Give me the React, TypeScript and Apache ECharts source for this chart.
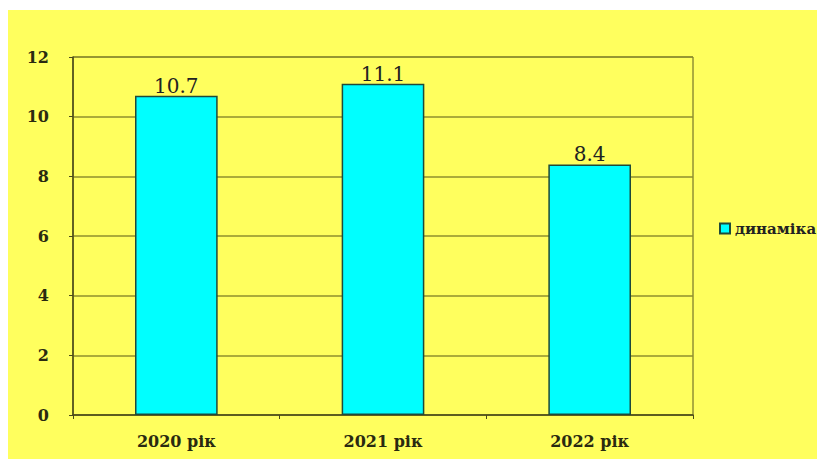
import React, { useEffect, useRef } from "react";
import * as echarts from "echarts";

const categories = ["2020 рік", "2021 рік", "2022 рік"];
const values = [10.7, 11.1, 8.4];
const seriesName = "динаміка";
const yTicks = { min: 0, max: 12, interval: 2 };

export default function App() {
  const ref = useRef<HTMLDivElement>(null);
  useEffect(() => {
    const chart = echarts.init(ref.current!, undefined, { renderer: "svg" });
    const font = "'DejaVu Serif'";
    chart.setOption({
      animation: false,
      backgroundColor: "#ffffff",
      textStyle: { fontFamily: font },
      graphic: [
        {
          type: "rect",
          z: -10,
          silent: true,
          shape: { x: 8, y: 10, width: 809, height: 449 },
          style: { fill: "#ffff5e" },
        },
      ],
      grid: { left: 73, right: 124, top: 57, bottom: 48, show: true, borderColor: "#5a5a1e", borderWidth: 1, backgroundColor: "transparent" },
      legend: {
        show: true,
        data: [seriesName],
        orient: "vertical",
        left: 714,
        top: 216,
        itemWidth: 10,
        itemHeight: 10,
        itemGap: 4,
        icon: "rect",
        textStyle: { fontFamily: font, fontSize: 15, fontWeight: "bold", color: "#222" },
      },
      xAxis: {
        type: "category",
        data: categories,
        axisLine: { lineStyle: { color: "#4a4a1a", width: 1.5 } },
        axisTick: { show: true, length: 4, lineStyle: { color: "#4a4a1a" } },
        axisLabel: { fontFamily: font, fontSize: 16, fontWeight: "bold", color: "#2a2a10", margin: 18 },
      },
      yAxis: {
        type: "value",
        min: yTicks.min,
        max: yTicks.max,
        interval: yTicks.interval,
        axisLine: { show: true, lineStyle: { color: "#4a4a1a", width: 1.5 } },
        axisTick: { show: true, length: 4, lineStyle: { color: "#4a4a1a" } },
        axisLabel: { fontFamily: font, fontSize: 16, fontWeight: "bold", color: "#2a2a10", margin: 24 },
        splitLine: { lineStyle: { color: "#8f8f2e", width: 1.5 } },
      },
      series: [
        {
          name: seriesName,
          type: "bar",
          data: values,
          barWidth: "40%",
          itemStyle: { color: "#00ffff", borderColor: "#1f4a3a", borderWidth: 1.5 },
          label: {
            show: true,
            position: "top",
            distance: 0,
            fontFamily: font,
            fontSize: 20,
            color: "#222",
            formatter: (p: any) => p.value.toFixed(1),
          },
        },
      ],
    });
    return () => chart.dispose();
  }, []);
  return <div ref={ref} style={{ position: "absolute", left: 0, top: 0, width: 817, height: 463 }} />;
}
